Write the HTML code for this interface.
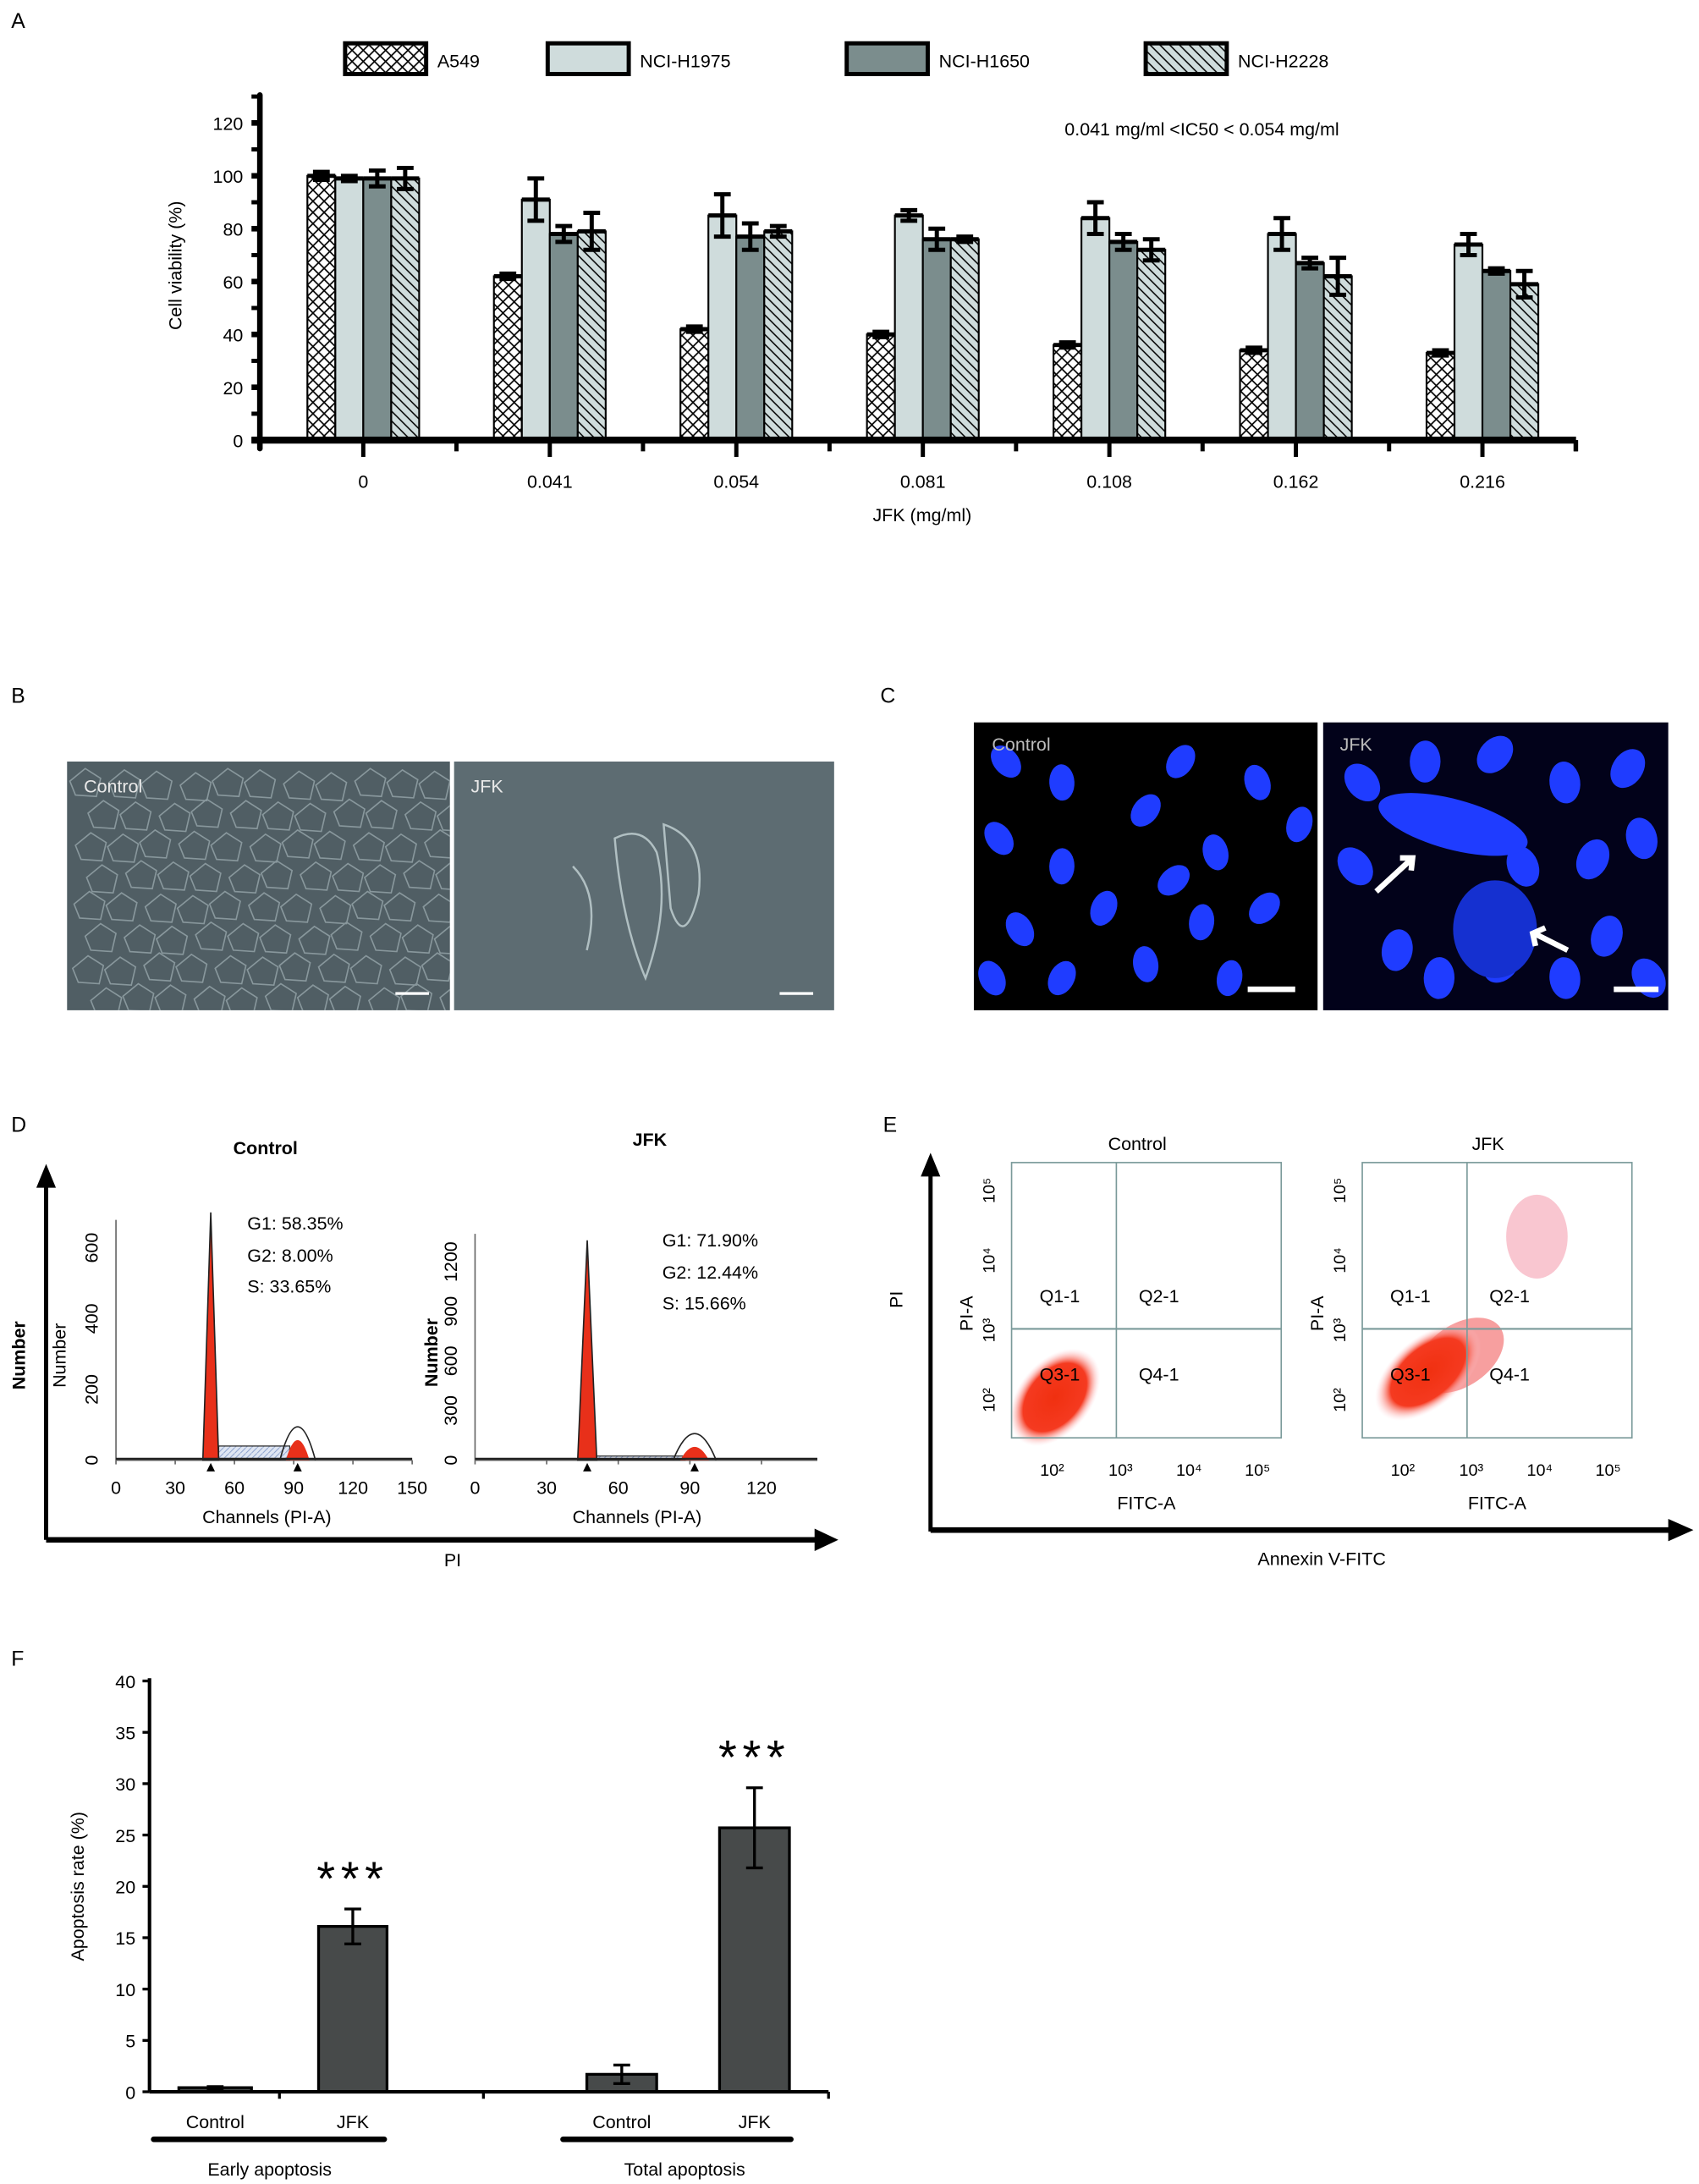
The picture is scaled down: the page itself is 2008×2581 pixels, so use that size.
<!DOCTYPE html>
<html><head><meta charset="utf-8"><style>
html,body{margin:0;padding:0;background:#fff}
svg{display:block;font-family:"Liberation Sans",Arial,sans-serif}
</style></head><body>
<svg id="fig" width="2008" height="2581" viewBox="0 0 1216 1563" xmlns="http://www.w3.org/2000/svg">
<defs>
<pattern id="cross" width="8" height="8" patternUnits="userSpaceOnUse"><rect width="8" height="8" fill="#fff"/><path d="M0 0L8 8M8 0L0 8" stroke="#000" stroke-width="1"/></pattern>
<pattern id="diag" width="7" height="7" patternUnits="userSpaceOnUse"><rect width="7" height="7" fill="#cfdcdc"/><path d="M0 0L7 7M-1 6L1 8M6 -1L8 1" stroke="#000" stroke-width="0.9"/></pattern>
<pattern id="hatchblue" width="4" height="4" patternUnits="userSpaceOnUse"><rect width="4" height="4" fill="#dfe6f3"/><path d="M0 4L4 0" stroke="#8aa0cc" stroke-width="0.6"/></pattern>
<radialGradient id="dotc" cx="50%" cy="50%" r="50%"><stop offset="0" stop-color="#f03010"/><stop offset="0.7" stop-color="#f53a20"/><stop offset="1" stop-color="#ffd0d8" stop-opacity="0"/></radialGradient>
<clipPath id="bclip"><rect x="48" y="545" width="274" height="178"/></clipPath>
</defs>

<text x="8" y="20" font-size="15">A</text>
<text x="8" y="503" font-size="15">B</text>
<text x="630" y="503" font-size="15">C</text>
<text x="8" y="810" font-size="15">D</text>
<text x="632" y="810" font-size="15">E</text>
<text x="8" y="1192" font-size="15">F</text>

<g id="panelA"></g>

<g>
<rect x="48" y="545" width="274" height="178" fill="#505e64"/>
<g id="bcells" stroke="#aebec2" stroke-width="1" fill="none" opacity="0.6" clip-path="url(#bclip)"></g>
<rect x="325" y="545" width="272" height="178" fill="#5d6c72"/>
<path d="M440 600 Q460 590 470 610 Q480 650 462 700 Q445 660 440 600Z M475 590 Q505 600 500 640 Q490 680 480 650Z M410 620 Q430 640 420 680" fill="none" stroke="#c6d4d6" stroke-width="1.5" opacity="0.8"/>
<text x="60" y="567" font-size="13" fill="#e8e8e8">Control</text>
<text x="337" y="567" font-size="13" fill="#e8e8e8">JFK</text>
<rect x="283" y="710" width="24" height="2" fill="#fff"/><rect x="558" y="710" width="24" height="2" fill="#fff"/>
</g>

<g>
<rect x="697" y="517" width="246" height="206" fill="#000"/>
<rect x="947" y="517" width="247" height="206" fill="#02021a"/>
<g id="nuclei" fill="#1f3cff"></g>
<text x="710" y="537" font-size="13" fill="#bbb">Control</text>
<text x="959" y="537" font-size="13" fill="#bbb">JFK</text>
<rect x="893" y="706" width="34" height="4" fill="#fff"/><rect x="1155" y="706" width="32" height="4" fill="#fff"/>
<path d="M985 638 L1010 615 M1002 614 L1011 614 L1010 623" stroke="#fff" stroke-width="4" fill="none"/>
<path d="M1122 680 L1098 668 M1099 677 L1097 668 L1106 664" stroke="#fff" stroke-width="4" fill="none"/>
</g>

<g>
<line x1="33" y1="1102" x2="33" y2="848" stroke="#000" stroke-width="3"/>
<path d="M26 850 L33 833 L40 850Z" fill="#000"/>
<line x1="33" y1="1102" x2="585" y2="1102" stroke="#000" stroke-width="4"/>
<path d="M583 1094 L600 1102 L583 1110Z" fill="#000"/>
<text x="190" y="826" font-size="13" text-anchor="middle" font-weight="bold">Control</text>
<text x="465" y="820" font-size="13" text-anchor="middle" font-weight="bold">JFK</text>
<text x="18" y="970" font-size="13" font-weight="bold" transform="rotate(-90 18 970)" text-anchor="middle">Number</text>
<text x="47" y="970" font-size="13" transform="rotate(-90 47 970)" text-anchor="middle">Number</text>
<text x="313" y="968" font-size="13" font-weight="bold" transform="rotate(-90 313 968)" text-anchor="middle">Number</text>
<text x="324" y="1121" font-size="13" text-anchor="middle">PI</text>
<g id="histC"></g><g id="histJ"></g>
<text x="177" y="880" font-size="13">G1: 58.35%</text>
<text x="177" y="903" font-size="13">G2: 8.00%</text>
<text x="177" y="925" font-size="13">S: 33.65%</text>
<text x="474" y="892" font-size="13">G1: 71.90%</text>
<text x="474" y="915" font-size="13">G2: 12.44%</text>
<text x="474" y="937" font-size="13">S: 15.66%</text>
<text x="191" y="1090" font-size="13" text-anchor="middle">Channels (PI-A)</text>
<text x="456" y="1090" font-size="13" text-anchor="middle">Channels (PI-A)</text>
</g>

<g>
<line x1="666" y1="1096" x2="666" y2="840" stroke="#000" stroke-width="3"/>
<path d="M659 842 L666 825 L673 842Z" fill="#000"/>
<line x1="666" y1="1095" x2="1196" y2="1095" stroke="#000" stroke-width="4"/>
<path d="M1194 1087 L1212 1095 L1194 1103Z" fill="#000"/>
<text x="946" y="1120" font-size="13" text-anchor="middle">Annexin V-FITC</text>
<text x="646" y="930" font-size="13" transform="rotate(-90 646 930)" text-anchor="middle">PI</text>
<text x="814" y="823" font-size="13" text-anchor="middle">Control</text>
<text x="1065" y="823" font-size="13" text-anchor="middle">JFK</text>
<g id="flowC"></g><g id="flowJ"></g>
</g>

<g id="panelF"></g>
</svg>

<script>
const NS="http://www.w3.org/2000/svg";
function mk(parent,tag,attrs,text){const e=document.createElementNS(NS,tag);for(const k in attrs)e.setAttribute(k,attrs[k]);if(text!==undefined)e.textContent=text;parent.appendChild(e);return e;}

const doses=["0","0.041","0.054","0.081","0.108","0.162","0.216"];
const seriesNames=["A549","NCI-H1975","NCI-H1650","NCI-H2228"];
const a549=[100,62,42,40,36,34,33];
const h1975=[99,91,85,85,84,78,74];
const h1650=[99,78,77,76,75,67,64];
const h2228=[99,79,79,76,72,62,59];
const errA549=[1.5,1,1,1,1,1,1];
const errH1975=[1,8,8,2,6,6,4];
const errH1650=[3,3,5,4,3,2,1];
const errH2228=[4,7,2,1,4,7,5];
const yTicksA=[0,20,40,60,80,100,120];

(function(){
const g=document.getElementById('panelA');
const x0=186,yb=315,yPer=(315-88)/120;
const y=v=>yb-v*yPer;
const cx=i=>260+i*133.5;
const fills=["url(#cross)","#cfdcdc","#7b8d8d","url(#diag)"];
const vals=[a549,h1975,h1650,h2228],errs=[errA549,errH1975,errH1650,errH2228];
const lx=[247,392,606,820];
seriesNames.forEach((n,i)=>{
 const r=mk(g,'rect',{x:lx[i],y:31,width:58,height:22,fill:fills[i],stroke:'#000','stroke-width':3});
 
 
 const t=mk(g,'text',{x:lx[i]+66,y:48,'font-size':13},n);
 
 
});
doses.forEach((d,i)=>{
 vals.forEach((s,k)=>{
  const bx=cx(i)-40+k*20;
  const b=mk(g,'rect',{x:bx,y:y(s[i]),width:20,height:yb-y(s[i]),fill:fills[k],stroke:'#000','stroke-width':1.3});
  
  
  const e=errs[k][i],m=bx+10;
  mk(g,'path',{d:`M${m} ${y(s[i]+e)}V${y(s[i]-e)}M${m-6} ${y(s[i]+e)}H${m+6}M${m-6} ${y(s[i]-e)}H${m+6}M${bx} ${y(s[i])}H${bx+20}`,stroke:'#000','stroke-width':3,fill:'none'});
 });
 mk(g,'line',{x1:cx(i),y1:yb,x2:cx(i),y2:yb+12,stroke:'#000','stroke-width':3});
 mk(g,'line',{x1:cx(i)+66.7,y1:yb,x2:cx(i)+66.7,y2:yb+8,stroke:'#000','stroke-width':3});
 const t=mk(g,'text',{x:cx(i),y:yb+34,'font-size':13,'text-anchor':'middle'},d);
 
 
});
mk(g,'line',{x1:x0,y1:68,x2:x0,y2:yb+6,stroke:'#000','stroke-width':4,'stroke-linecap':'round'});
mk(g,'line',{x1:x0-6,y1:yb,x2:1128,y2:yb,stroke:'#000','stroke-width':5});
mk(g,'line',{x1:1128,y1:yb,x2:1128,y2:yb+8,stroke:'#000','stroke-width':3});
yTicksA.forEach(v=>{
 mk(g,'line',{x1:x0-6,y1:y(v),x2:x0,y2:y(v),stroke:'#000','stroke-width':4});
 mk(g,'line',{x1:x0-6,y1:y(v+10),x2:x0,y2:y(v+10),stroke:'#000','stroke-width':3});
 const t=mk(g,'text',{x:x0-12,y:y(v)+5,'font-size':13,'text-anchor':'end'},String(v));
 
 
});
const yt=mk(g,'text',{x:130,y:190,'font-size':13,'text-anchor':'middle',transform:'rotate(-90 130 190)'},'Cell viability (%)');


const xt=mk(g,'text',{x:660,y:373,'font-size':13,'text-anchor':'middle'},'JFK (mg/ml)');


mk(g,'text',{x:762,y:97,'font-size':13},'0.041 mg/ml <IC50 < 0.054 mg/ml');
})();

(function(){const g=document.getElementById('bcells');
for(let r=0;r<8;r++)for(let c=0;c<11;c++){const x=50+c*25+(r%2)*11+((r*7+c*3)%5),yy=550+r*22+((c*5+r)%4);
 mk(g,'path',{d:`M${x} ${yy+9} L${x+11} ${yy} L${x+22} ${yy+7} L${x+19} ${yy+20} L${x+4} ${yy+19}Z`});}
})();

(function(){const g=document.getElementById('nuclei');
const ctrl=[[720,545],[760,560],[845,545],[900,560],[930,590],[715,600],[760,620],[820,580],[870,610],[790,650],[730,665],[860,660],[905,650],[820,690],[760,700],[710,700],[880,700],[840,630]];
ctrl.forEach(([x,y],i)=>mk(g,'ellipse',{cx:x,cy:y,rx:9,ry:13,transform:`rotate(${(i*37)%90-40} ${x} ${y})`}));
const j=[[975,560],[1020,545],[1070,540],[1120,560],[1165,550],[1175,600],[1140,615],[1090,620],[1150,670],[1180,700],[1000,680],[970,620],[1030,700],[1075,690],[1120,700]];
j.forEach(([x,y],i)=>mk(g,'ellipse',{cx:x,cy:y,rx:11,ry:15,transform:`rotate(${(i*41)%90-40} ${x} ${y})`}));
mk(g,'ellipse',{cx:1040,cy:590,rx:55,ry:18,transform:'rotate(15 1040 590)'});
mk(g,'ellipse',{cx:1070,cy:665,rx:30,ry:35,fill:'#1530d0'});
})();

const histCtrlTicks=[0,30,60,90,120,150];
const histCtrlY=[0,200,400,600];
const histJfkTicks=[0,30,60,90,120];
const histJfkY=[0,300,600,900,1200];
function hist(id,x0,x1,xmax,xend,yb,ytop,ymax,xt,yt,g1,g1h,g2h,sh,g2o){
 const g=document.getElementById(id);
 const X=v=>x0+(x1-x0)*v/xmax,Y=v=>yb-(yb-ytop)*v/ymax;
 mk(g,'line',{x1:x0,y1:yb,x2:x0,y2:ytop-20,stroke:'#666','stroke-width':1});
 mk(g,'line',{x1:x0,y1:yb,x2:xend,y2:yb,stroke:'#666','stroke-width':1});
 xt.forEach(v=>{mk(g,'text',{x:X(v),y:yb+24,'font-size':13,'text-anchor':'middle'},String(v));mk(g,'line',{x1:X(v),y1:yb,x2:X(v),y2:yb+3,stroke:'#666'});});
 yt.forEach(v=>{const yy=Y(v),lx=x0-13;mk(g,'text',{x:lx,y:yy,'font-size':13,'text-anchor':'middle',transform:`rotate(-90 ${lx} ${yy})`},String(v));});
 mk(g,'rect',{x:X(g1+4),y:Y(sh),width:X(g2o-4)-X(g1+4),height:yb-Y(sh),fill:'url(#hatchblue)',stroke:'#333','stroke-width':0.8});
 mk(g,'path',{d:`M${X(g1-4)} ${yb} L${X(g1)} ${Y(g1h)} L${X(g1+4)} ${yb}Z`,fill:'#e8301a',stroke:'#222','stroke-width':1});
 mk(g,'path',{d:`M${X(g2o-6)} ${yb} Q${X(g2o)} ${Y(g2h)-6} ${X(g2o+6)} ${yb}Z`,fill:'#e8301a'});
 mk(g,'path',{d:`M${X(g2o-9)} ${yb} Q${X(g2o)} ${Y(g2h)-25} ${X(g2o+9)} ${yb}`,fill:'none',stroke:'#222','stroke-width':1});
 mk(g,'line',{x1:X(0),y1:yb-1,x2:xend,y2:yb-1,stroke:'#222','stroke-width':1.5});
 mk(g,'path',{d:`M${X(g1)-3} ${yb+8}L${X(g1)} ${yb+2}L${X(g1)+3} ${yb+8}Z M${X(g2o)-3} ${yb+8}L${X(g2o)} ${yb+2}L${X(g2o)+3} ${yb+8}Z`,fill:'#000'});
}
hist('histC',83,295,150,295,1045,893,600,histCtrlTicks,histCtrlY,48,700,90,40,92);
hist('histJ',340,545,120,585,1045,903,1200,histJfkTicks,histJfkY,47,1330,110,25,92);

const flowLabels=["Q1-1","Q2-1","Q3-1","Q4-1"];
function flow(id,bx,bw,qx,jfk){
 const g=document.getElementById(id);
 const top=832,bot=1029,qy=951;
 if(jfk){
  mk(g,'ellipse',{cx:1100,cy:885,rx:22,ry:30,fill:'#f5a0b0',opacity:0.6});
  mk(g,'ellipse',{cx:1045,cy:970,rx:35,ry:22,fill:'#f04040',opacity:0.5,transform:'rotate(-35 1045 970)'});
  mk(g,'ellipse',{cx:1022,cy:982,rx:45,ry:25,fill:'url(#dotc)',transform:'rotate(-40 1022 982)'});
 } else {
  mk(g,'ellipse',{cx:755,cy:1000,rx:40,ry:26,fill:'url(#dotc)',transform:'rotate(-50 755 1000)'});
 }
 mk(g,'rect',{x:bx,y:top,width:bw,height:bot-top,fill:'none',stroke:'#7a9a9a','stroke-width':1});
 mk(g,'line',{x1:qx,y1:top,x2:qx,y2:bot,stroke:'#7a9a9a'});
 mk(g,'line',{x1:bx,y1:qy,x2:bx+bw,y2:qy,stroke:'#7a9a9a','stroke-width':1.3});
 const pos=[[bx+20,932],[qx+16,932],[bx+20,988],[qx+16,988]];
 flowLabels.forEach((l,i)=>mk(g,'text',{x:pos[i][0],y:pos[i][1],'font-size':13},l));
 ["10²","10³","10⁴","10⁵"].forEach((l,i)=>{
  mk(g,'text',{x:bx+29+i*49,y:1056,'font-size':12,'text-anchor':'middle'},l);
  const yy=1002-i*50;mk(g,'text',{x:bx-12,y:yy,'font-size':12,'text-anchor':'middle',transform:`rotate(-90 ${bx-12} ${yy})`},l);
 });
 mk(g,'text',{x:bx+bw/2,y:1080,'font-size':13,'text-anchor':'middle'},'FITC-A');
 mk(g,'text',{x:bx-28,y:940,'font-size':13,'text-anchor':'middle',transform:`rotate(-90 ${bx-28} 940)`},'PI-A');
}
flow('flowC',724,193,799,false);
flow('flowJ',975,193,1050,true);

const fCategories=["Control","JFK","Control","JFK"];
const fValues=[0.4,16.1,1.7,25.7];
const fErrors=[0.1,1.7,0.9,3.9];
const fYTicks=[0,5,10,15,20,25,30,35,40];
(function(){
const g=document.getElementById('panelF');
const x0=107,yb=1497,per=(1497-1203)/40,Y=v=>yb-v*per;
const bx=[128,228,420,515],bw=[52,49,50,50];
fValues.forEach((v,i)=>{
 const r=mk(g,'rect',{x:bx[i],y:Y(v),width:bw[i],height:yb-Y(v),fill:'#474a4a',stroke:'#000','stroke-width':2});
 
 
 const m=bx[i]+bw[i]/2,e=fErrors[i];
 mk(g,'path',{d:`M${m} ${Y(v+e)}V${Y(v-e)}M${m-6} ${Y(v+e)}H${m+6}M${m-6} ${Y(v-e)}H${m+6}`,stroke:'#000','stroke-width':2,fill:'none'});
 mk(g,'text',{x:m,y:1523,'font-size':13,'text-anchor':'middle'},fCategories[i]);
 if(i==1||i==3) mk(g,'text',{x:m,y:Y(v+e)-10,'font-size':34,'text-anchor':'middle','letter-spacing':'4'},'***');
});
mk(g,'line',{x1:x0,y1:1201,x2:x0,y2:yb,stroke:'#000','stroke-width':2.5});
mk(g,'line',{x1:x0,y1:yb,x2:593,y2:yb,stroke:'#000','stroke-width':2.5});
[200,346,593].forEach(x=>mk(g,'line',{x1:x,y1:yb,x2:x,y2:yb+5,stroke:'#000','stroke-width':2}));
fYTicks.forEach(v=>{
 mk(g,'line',{x1:x0-5,y1:Y(v),x2:x0,y2:Y(v),stroke:'#000','stroke-width':2});
 mk(g,'text',{x:x0-10,y:Y(v)+5,'font-size':13,'text-anchor':'end'},String(v));
});
mk(g,'text',{x:60,y:1350,'font-size':13,'text-anchor':'middle',transform:'rotate(-90 60 1350)'},'Apoptosis rate (%)');
mk(g,'line',{x1:110,y1:1531,x2:275,y2:1531,stroke:'#000','stroke-width':4,'stroke-linecap':'round'});
mk(g,'line',{x1:403,y1:1531,x2:566,y2:1531,stroke:'#000','stroke-width':4,'stroke-linecap':'round'});
mk(g,'text',{x:193,y:1557,'font-size':13,'text-anchor':'middle'},'Early apoptosis');
mk(g,'text',{x:490,y:1557,'font-size':13,'text-anchor':'middle'},'Total apoptosis');
})();
</script>
</body></html>
